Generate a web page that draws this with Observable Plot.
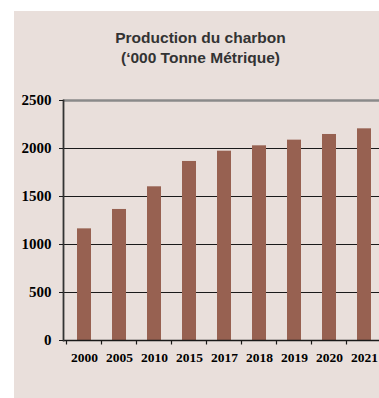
<!DOCTYPE html>
<html>
<head>
<meta charset="utf-8">
<script src="https://cdn.jsdelivr.net/npm/d3@7"></script>
<script src="https://cdn.jsdelivr.net/npm/@observablehq/plot@0.6"></script>
<style>
  html, body { margin: 0; padding: 0; background: #ffffff; overflow: hidden; width: 379px; height: 398px; }
  #wrap { position: relative; width: 379px; height: 398px; overflow: hidden; background: #ffffff; }
  #panel { position: absolute; left: 14px; top: 11px; width: 365px; height: 387px; background: #e9dfdb; }
  #title { position: absolute; left: 14px; top: 28px; width: 373px; text-align: center;
           font-family: "Liberation Sans", Arial, sans-serif; font-weight: bold; font-size: 15.5px;
           line-height: 20px; color: #333333; white-space: nowrap; }
  #chart { position: absolute; left: 0; top: 0; width: 379px; height: 398px; }
  #chart svg { max-width: none; display: block; overflow: hidden; }
</style>
</head>
<body>
<div id="wrap">
  <div id="panel"></div>
  <div id="title">Production du charbon<br>(‘000 Tonne Métrique)</div>
  <div id="chart"></div>
</div>
<script>
const years = ["2000", "2005", "2010", "2015", "2017", "2018", "2019", "2020", "2021"];
const production = [1163, 1365, 1601, 1865, 1972, 2028, 2087, 2146, 2205];
const yTicks = [0, 500, 1000, 1500, 2000, 2500];
const gridTicks = [500, 1000, 1500, 2000];

const data = years.map((y, i) => ({year: y, value: production[i]}));

const ML = 63, XR = 385;

// x-axis tick marks drawn at the band boundaries, taken from the band scale
function boundaryTicks(index, scales) {
  const x = scales.x, y = scales.y;
  const bw = x.bandwidth ? x.bandwidth() : 0;
  const st = x.step ? x.step() : bw;
  const y0 = y(0);
  const g = d3.create("svg:g").attr("stroke", "#1a1a1a").attr("stroke-width", 1.2);
  years.forEach(v => {
    const px = x(v) + bw / 2 - st / 2;
    g.append("line").attr("x1", px).attr("x2", px).attr("y1", y0).attr("y2", y0 + 4.5);
  });
  return g.node();
}

const chart = Plot.plot({
  width: 379,
  height: 398,
  marginTop: 100,
  marginBottom: 58,
  marginLeft: ML,
  marginRight: 0,
  style: {background: "transparent", fontFamily: "'Liberation Serif', 'Times New Roman', serif", fontWeight: "bold", fontSize: "14px", color: "#000", maxWidth: "none"},
  x: {domain: years, range: [ML, XR], paddingInner: 0.6, paddingOuter: 0.3, label: null},
  y: {domain: [0, 2500], label: null},
  marks: [
    Plot.gridY(gridTicks, {stroke: "#1a1a1a", strokeOpacity: 1, strokeWidth: 1}),
    Plot.ruleY([2500], {stroke: "#8a8a8a", strokeWidth: 2.5}),
    Plot.barY(data, {x: "year", y: "value", fill: "#976151"}),
    Plot.ruleY([0], {stroke: "#1a1a1a", strokeWidth: 1.5}),
    Plot.frame({anchor: "left", stroke: "#333", strokeWidth: 1.8}),
    Plot.axisY({ticks: yTicks, tickFormat: d3.format("d"), tickSize: 4, tickPadding: 8, stroke: "#1a1a1a", fill: "#000", fontSize: 15, fontWeight: "bold"}),
    Plot.axisX({tickSize: 0, tickPadding: 11.5, fill: "#000", fontSize: 13.5, fontWeight: "bold"}),
    boundaryTicks
  ]
});
chart.style.maxWidth = "none";
document.getElementById("chart").appendChild(chart);
</script>
</body>
</html>
